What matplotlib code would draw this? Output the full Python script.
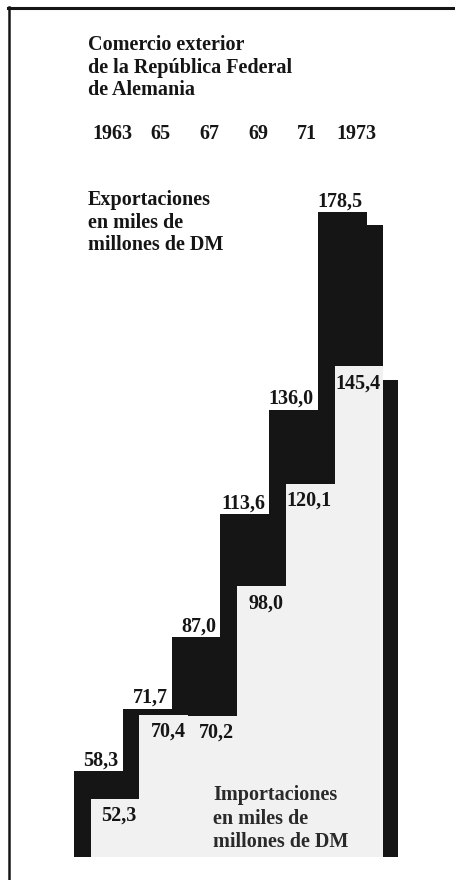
import matplotlib.pyplot as plt
import matplotlib.transforms as mtransforms
from matplotlib.lines import Line2D
import numpy as np

# data (thousands of millions of DM)
years = ["1963", "65", "67", "69", "71", "1973"]
exports = [58.3, 71.7, 87.0, 113.6, 136.0, 178.5]
imports = [52.3, 70.4, 70.2, 98.0, 120.1, 145.4]
export_labels = ["58,3", "71,7", "87,0", "113,6", "136,0", "178,5"]
import_labels = ["52,3", "70,4", "70,2", "98,0", "120,1", "145,4"]
# black side edge to the right of the 1973 columns
side_heights = [175.7, 142.4]

W, H = 455, 880
# pixel mapping of the stepped area
x0_px, step_px = 74.0, 48.8
zero_px, unit_px = 1042.0, 4.65
bottom_px = 857.0
imp_offset = 0.34
side_edges = [6.0, 6.0 + imp_offset, 6.64]

BLACK = "#151515"
GREY = "#f1f1f1"
FONT = ["Liberation Serif", "DejaVu Serif"]
FS = 14.5

fig = plt.figure(figsize=(W / 100, H / 100), dpi=100)
ax = fig.add_axes([0, 0, 1, 1])
ax.set_xlim(-x0_px / step_px, (W - x0_px) / step_px)
ax.set_ylim((zero_px - H) / unit_px, zero_px / unit_px)
ax.axis("off")
base = (zero_px - bottom_px) / unit_px

n = len(exports)
xe = list(np.arange(n + 1)) + side_edges[1:]
ye = exports + side_heights + [side_heights[-1]]
ax.fill_between(xe, base, ye, step="post", color=BLACK, lw=0, zorder=1)

xi = np.arange(n + 1) + imp_offset
yi = imports + [imports[-1]]
ax.fill_between(xi, base, yi, step="post", color=GREY, lw=0, zorder=2)

for i in range(n):
    ax.annotate(export_labels[i], xy=(i + 1, exports[i]), xytext=(-3, 4),
                textcoords="offset points", ha="right", va="baseline",
                fontsize=FS, fontweight="bold", family=FONT, color=BLACK, zorder=4)
    ax.annotate(import_labels[i], xy=(i + 1 + imp_offset, imports[i]), xytext=(-2, -16),
                textcoords="offset points", ha="right", va="baseline",
                fontsize=FS, fontweight="bold", family=FONT, color=BLACK, zorder=3)


def fy(y):
    return 1 - y / H


def fx(x):
    return x / W


title = ["Comercio exterior", "de la República Federal", "de Alemania"]
for k, line in enumerate(title):
    fig.text(fx(88), fy(50 + 22.5 * k), line, fontsize=FS, fontweight="bold",
             family=FONT, va="baseline", color=BLACK)

trans = mtransforms.blended_transform_factory(ax.transData, fig.transFigure)
for i, yr in enumerate(years):
    ax.text(i + 0.78, fy(139), yr, transform=trans, ha="center", va="baseline",
            fontsize=FS, fontweight="bold", family=FONT, color=BLACK)

exp_text = ["Exportaciones", "en miles de", "millones de DM"]
for k, line in enumerate(exp_text):
    fig.text(fx(88), fy(205 + 22.5 * k), line, fontsize=FS, fontweight="bold",
             family=FONT, va="baseline", color=BLACK)

imp_text = ["Importaciones", "en miles de", "millones de DM"]
for k, line in enumerate(imp_text):
    fig.text(fx(213), fy(800 + 23.5 * k), line, fontsize=FS, fontweight="bold",
             family=FONT, va="baseline", color="#2a2a2a", zorder=5)

# frame lines
fig.add_artist(Line2D([fx(8), 1], [fy(8), fy(8)], color=BLACK, lw=2.2))
fig.add_artist(Line2D([fx(9), fx(9)], [fy(7), 0], color=BLACK, lw=1.8))

fig.savefig("out.png", dpi=100)
